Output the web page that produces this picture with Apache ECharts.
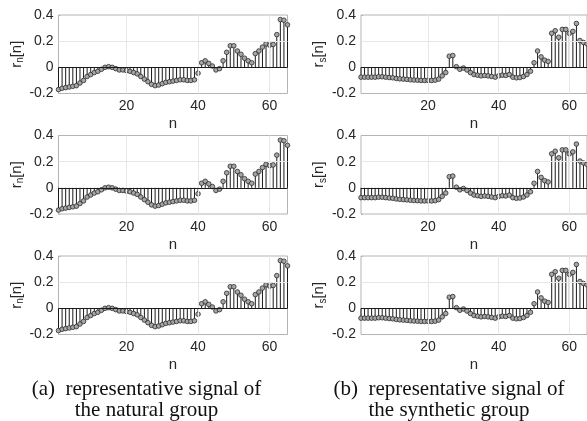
<!DOCTYPE html>
<html>
<head>
<meta charset="utf-8">
<script src="https://cdn.jsdelivr.net/npm/echarts@6/dist/echarts.min.js"></script>
<style>
html,body{margin:0;padding:0;background:#fff;}
#chart{width:587px;height:421px;}
</style>
</head>
<body>
<div id="chart"></div>
<script>
// sample index n
const nIndex = [1,2,3,4,5,6,7,8,9,10,11,12,13,14,15,16,17,18,19,20,21,22,23,24,25,26,27,28,29,30,31,32,33,34,35,36,37,38,39,40,41,42,43,44,45,46,47,48,49,50,51,52,53,54,55,56,57,58,59,60,61,62,63,64,65];

// r_n[n] : natural group
const rNatural = [-0.17,-0.16,-0.155,-0.15,-0.145,-0.14,-0.12,-0.10,-0.07,-0.055,
  -0.04,-0.03,-0.015,0.0,0.005,0.0,-0.01,-0.02,-0.02,-0.025,
  -0.03,-0.04,-0.05,-0.07,-0.09,-0.11,-0.13,-0.14,-0.135,-0.125,
  -0.115,-0.11,-0.105,-0.10,-0.095,-0.095,-0.10,-0.10,-0.095,-0.045,
  0.035,0.05,0.03,0.01,-0.02,-0.01,0.05,0.115,0.165,0.165,
  0.125,0.10,0.07,0.05,0.035,0.105,0.125,0.155,0.18,0.17,
  0.175,0.25,0.365,0.36,0.325];

// r_s[n] : synthetic group
const rSynthetic = [-0.075,-0.075,-0.075,-0.075,-0.075,-0.072,-0.072,-0.075,-0.078,-0.08,
  -0.085,-0.088,-0.09,-0.092,-0.095,-0.097,-0.098,-0.10,-0.10,-0.10,
  -0.10,-0.098,-0.09,-0.065,-0.04,0.085,0.09,0.005,-0.015,-0.005,
  -0.02,-0.04,-0.055,-0.06,-0.065,-0.062,-0.065,-0.07,-0.075,-0.065,
  -0.06,-0.062,-0.055,-0.075,-0.08,-0.078,-0.07,-0.055,-0.03,0.035,
  0.125,0.08,0.055,0.045,0.26,0.28,0.23,0.29,0.29,0.26,
  0.275,0.335,0.205,0.19,0.18];

const xTickValues = [20, 40, 60];
const yTickValues = [-0.2, 0, 0.2, 0.4];
const yLabelNatural = '{b|r}{s|n}{b|[n]}';
const yLabelSynthetic = '{b|r}{s|s}{b|[n]}';
const xLabel = 'n';
const captions = [
  ['(a)  representative signal of', 'the natural group'],
  ['(b)  representative signal of', 'the synthetic group']
];

const panels = [
  {col: 0, row: 0, data: rNatural, name: yLabelNatural},
  {col: 0, row: 1, data: rNatural, name: yLabelNatural},
  {col: 0, row: 2, data: rNatural, name: yLabelNatural},
  {col: 1, row: 0, data: rSynthetic, name: yLabelSynthetic},
  {col: 1, row: 1, data: rSynthetic, name: yLabelSynthetic},
  {col: 1, row: 2, data: rSynthetic, name: yLabelSynthetic}
];

const colLeft = [58.5, 361];
const rowTop = [15, 135.5, 256];
const gridW = 229, gridH = 78.5;
const sans = 'Liberation Sans';
const labelColor = '#262626';

const grids = [], xAxes = [], yAxes = [], series = [];
panels.forEach((p, i) => {
  grids.push({left: colLeft[p.col], top: rowTop[p.row], width: gridW, height: gridH,
    show: true, borderColor: '#b4b4b4', borderWidth: 1, backgroundColor: 'transparent'});
  xAxes.push({type: 'value', gridIndex: i, min: 1, max: 65,
    axisLine: {show: false},
    axisTick: {show: true, inside: true, length: 2, customValues: xTickValues, lineStyle: {color: '#b4b4b4'}},
    axisLabel: {customValues: xTickValues, fontFamily: sans, fontSize: 14, color: labelColor, margin: 6},
    splitLine: {show: false},
    name: xLabel, nameLocation: 'middle', nameGap: 23,
    nameTextStyle: {fontFamily: sans, fontSize: 15, color: labelColor}});
  yAxes.push({type: 'value', gridIndex: i, min: -0.2, max: 0.4, interval: 0.2,
    axisLine: {show: false},
    axisTick: {show: true, inside: true, length: 2, lineStyle: {color: '#b4b4b4'}},
    axisLabel: {fontFamily: sans, fontSize: 14, color: labelColor, margin: 5,
      formatter: v => (Math.abs(v) < 1e-9 ? '0' : (Math.round(v * 10) / 10).toString())},
    splitLine: {show: false},
    name: p.name, nameLocation: 'middle', nameRotate: 90, nameGap: 32,
    nameTextStyle: {color: labelColor, rich: {
      b: {fontFamily: sans, fontSize: 15, color: labelColor, lineHeight: 18},
      s: {fontFamily: sans, fontSize: 10, color: labelColor, lineHeight: 8, verticalAlign: 'bottom'}
    }}});
  // grid lines + zero baseline
  series.push({type: 'line', xAxisIndex: i, yAxisIndex: i, data: [], z: 1, silent: true,
    markLine: {silent: true, symbol: 'none', label: {show: false}, animation: false,
      lineStyle: {color: '#e6e6e6', width: 1, type: 'solid'},
      data: xTickValues.map(v => ({xAxis: v})).concat([{yAxis: 0.2}])}});
  series.push({type: 'line', xAxisIndex: i, yAxisIndex: i, data: [], z: 2, silent: true,
    markLine: {silent: true, symbol: 'none', label: {show: false}, animation: false,
      lineStyle: {color: '#1a1a1a', width: 1, type: 'solid'},
      data: [{yAxis: 0}]}});
  series.push({type: 'custom', xAxisIndex: i, yAxisIndex: i, z: 3, silent: true,
    data: nIndex.map((n, k) => [n, p.data[k]]),
    renderItem: (params, api) => {
      const x = api.value(0), y = api.value(1);
      const p0 = api.coord([x, 0]);
      const p1 = api.coord([x, y]);
      return {type: 'group', children: [
        {type: 'line', shape: {x1: p0[0], y1: p0[1], x2: p1[0], y2: p1[1]},
          style: {stroke: '#1a1a1a', lineWidth: 1}},
        {type: 'circle', shape: {cx: p1[0], cy: p1[1], r: 2.3},
          style: {fill: '#a6a6a6', stroke: '#2b2b2b', lineWidth: 0.8}}
      ]};
    }});
});

const captionX = [146.5, 449];
const captionY = [389.5, 410.5];
const graphics = [];
captions.forEach((lines, c) => {
  lines.forEach((t, j) => {
    graphics.push({type: 'text', x: captionX[c], y: captionY[j], silent: true,
      style: {text: t, font: '21px "Liberation Serif"', fill: '#111',
        align: 'center', verticalAlign: 'middle', textAlign: 'center', textVerticalAlign: 'middle'}});
  });
});

const chart = echarts.init(document.getElementById('chart'), null, {renderer: 'canvas'});
chart.setOption({
  animation: false,
  backgroundColor: '#fff',
  grid: grids, xAxis: xAxes, yAxis: yAxes, series: series,
  graphic: graphics
});
</script>
</body>
</html>
